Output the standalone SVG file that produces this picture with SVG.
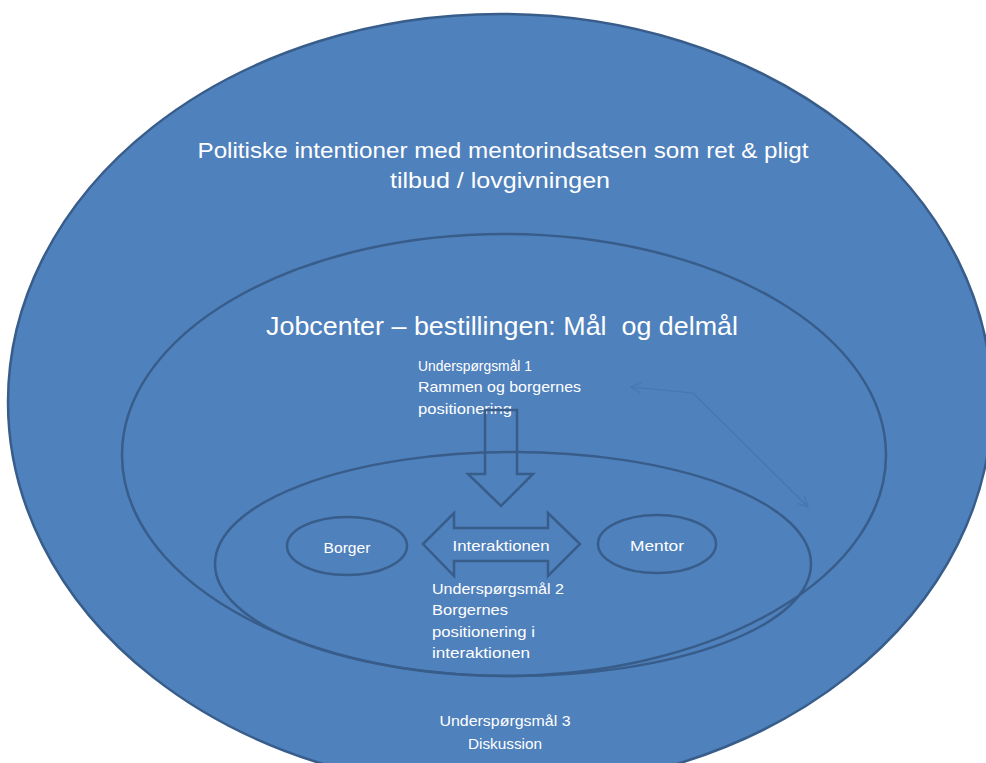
<svg xmlns="http://www.w3.org/2000/svg" width="986" height="763" viewBox="0 0 986 763">
<defs>
<style>
.sh{fill:#4F81BD;stroke:#385D8A;stroke-width:2.5}
.ln{fill:none;stroke:#385D8A;stroke-width:2.5}
.t{fill:#FFFFFF;font-family:"Liberation Sans","DejaVu Sans",sans-serif;white-space:pre}
.faint{fill:none;stroke:#4876AE;stroke-width:1.2}
</style>
<marker id="oh" viewBox="0 0 12 12" refX="11" refY="6" markerWidth="12" markerHeight="12" markerUnits="userSpaceOnUse" orient="auto-start-reverse">
<path d="M1,1 L11,6 L1,11" fill="none" stroke="#4876AE" stroke-width="1.2"/>
</marker>
</defs>
<rect width="986" height="763" fill="#FFFFFF"/>
<g id="outer">
<ellipse class="sh" cx="500" cy="402" rx="492" ry="388"/>
<text class="t" x="503" y="158" font-size="22" text-anchor="middle" textLength="611" lengthAdjust="spacingAndGlyphs">Politiske intentioner med mentorindsatsen som ret &amp; pligt</text>
<text class="t" x="500" y="188" font-size="22" text-anchor="middle" textLength="220" lengthAdjust="spacingAndGlyphs">tilbud / lovgivningen</text>
<text class="t" x="505" y="726" font-size="15" text-anchor="middle" textLength="131" lengthAdjust="spacingAndGlyphs">Underspørgsmål 3</text>
<text class="t" x="505" y="749" font-size="15" text-anchor="middle" textLength="74" lengthAdjust="spacingAndGlyphs">Diskussion</text>
</g>
<g id="middle">
<ellipse class="ln" cx="504" cy="455" rx="382" ry="221"/>
<text class="t" x="502" y="335" font-size="26" text-anchor="middle" textLength="472" lengthAdjust="spacingAndGlyphs">Jobcenter – bestillingen: Mål  og delmål</text>
<text class="t" x="418" y="371" font-size="15" textLength="114" lengthAdjust="spacingAndGlyphs">Underspørgsmål 1</text>
<text class="t" x="418" y="392" font-size="15" textLength="163" lengthAdjust="spacingAndGlyphs">Rammen og borgernes</text>
<text class="t" x="418" y="414" font-size="15" textLength="94" lengthAdjust="spacingAndGlyphs">positionering</text>
</g>
<g id="inner">
<ellipse class="ln" cx="513" cy="564" rx="298" ry="112"/>
<text class="t" x="432" y="594" font-size="15" textLength="132" lengthAdjust="spacingAndGlyphs">Underspørgsmål 2</text>
<text class="t" x="432" y="615" font-size="15" textLength="76" lengthAdjust="spacingAndGlyphs">Borgernes</text>
<text class="t" x="432" y="637" font-size="15" textLength="103" lengthAdjust="spacingAndGlyphs">positionering i</text>
<text class="t" x="432" y="658" font-size="15" textLength="98" lengthAdjust="spacingAndGlyphs">interaktionen</text>
</g>
<g id="borger">
<ellipse class="ln" cx="347" cy="546" rx="60" ry="29"/>
<text class="t" x="347" y="553" font-size="15" text-anchor="middle" textLength="47" lengthAdjust="spacingAndGlyphs">Borger</text>
</g>
<g id="mentor">
<ellipse class="ln" cx="657" cy="544" rx="59" ry="29"/>
<text class="t" x="657" y="551" font-size="15" text-anchor="middle" textLength="54" lengthAdjust="spacingAndGlyphs">Mentor</text>
</g>
<g id="connectors">
<path id="down-arrow" class="ln" d="M485,410 L517,410 L517,474 L533,474 L501,506 L468,474 L485,474 Z"/>
<g id="interaktionen">
<path class="ln" d="M423,544 L454,513 L454,528 L548,528 L548,513 L580,544 L548,576 L548,561 L454,561 L454,576 Z"/>
<text class="t" x="501" y="551" font-size="15" text-anchor="middle" textLength="97" lengthAdjust="spacingAndGlyphs">Interaktionen</text>
</g>
<path id="faint-arrow" class="faint" d="M631,387 L693,393 L808,507" marker-start="url(#oh)" marker-end="url(#oh)"/>
</g>
</svg>
